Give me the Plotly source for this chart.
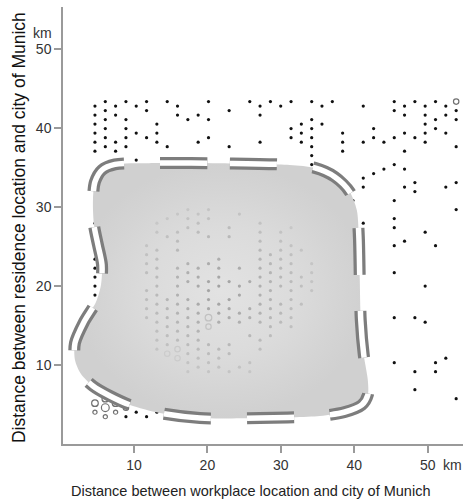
import plotly.graph_objects as go

# ---------------- data (km) ----------------
# black dots above the shaded region, row by row (y value, x values)
top_rows_y = [43.33, 42.76, 42.19, 41.62, 41.05, 40.48, 39.91, 39.34, 38.77,
              38.20, 37.63, 37.06, 36.50, 35.93, 35.36]
top_rows_x = [
    [6.10, 8.91, 11.72, 14.53, 20.15, 25.77, 28.58, 31.39, 34.20, 37.01, 45.44, 48.25, 51.06],
    [4.69, 7.50, 10.31, 15.93, 27.17, 29.98, 35.60, 41.22, 46.84, 49.65, 52.46],
    [6.10, 11.72, 22.96, 45.44, 53.87],
    [4.69, 7.50, 15.93, 18.74, 27.17, 46.84, 49.65, 52.46],
    [6.10, 8.91, 17.34, 20.15, 34.20, 51.06, 53.87],
    [4.69, 13.12, 32.79, 35.60, 49.65],
    [6.10, 8.91, 31.39, 34.20, 42.63, 51.06],
    [4.69, 10.31, 13.12, 32.79, 38.41, 46.84, 49.65, 52.46],
    [6.10, 8.91, 11.72, 20.15, 31.39, 34.20, 42.63, 45.44, 48.25],
    [4.69, 7.50, 13.12, 18.74, 27.17, 32.79, 38.41, 41.22, 44.03, 49.65],
    [6.10, 8.91, 14.53, 22.96, 34.20, 53.87],
    [4.69, 7.50, 38.41, 46.84],
    [34.20],
    [10.31],
    [34.20, 45.44],
]

# black dots right of the shaded region
right_rows_y = [34.79, 34.22, 33.65, 33.08, 32.51, 31.94, 30.80, 29.66, 28.52,
                27.95, 27.38, 26.81, 25.67, 25.10, 21.68, 19.98, 15.99, 15.42,
                10.86, 10.29, 9.15, 6.88, 5.74]
right_rows_x = [
    [44.03, 46.84], [42.63], [41.22], [48.25, 53.87], [41.22, 46.84, 52.46],
    [48.25], [39.82, 45.44], [53.87], [45.44], [41.22], [45.44], [49.65],
    [46.84], [45.44, 51.06], [45.44], [49.65], [45.44, 48.25], [49.65],
    [52.46], [45.44, 51.06], [48.25, 51.06], [48.25], [53.87],
]

# black dots left of the shaded region
left_x = [4.69, 4.69, 4.69, 4.69, 4.69, 4.69, 4.69, 4.69]
left_y = [27.95, 26.81, 25.67, 23.39, 22.25, 21.12, 19.98, 18.84]

# black dots below the shaded region
bottom_x = [8.91, 10.31, 11.72, 13.12, 14.53, 17.34]
bottom_y = [3.46, 4.03, 3.46, 4.03, 3.46, 3.46]

# dots covered by the shaded region
inner_rows_y = [29.66, 29.09, 28.52, 27.95, 27.38, 26.81, 26.24, 25.67, 25.10,
                24.53, 23.96, 23.39, 22.82, 22.25, 21.68, 21.12, 20.55, 19.98,
                19.41, 18.84, 18.27, 17.70, 17.13, 16.56, 15.99, 15.42, 14.85,
                14.28, 13.71, 13.14, 12.57, 12.00, 11.43, 10.86, 10.29, 9.72, 9.15]
inner_rows_x = [
    [17.34, 20.15],
    [15.93, 18.74, 24.36],
    [14.53, 17.34, 20.15],
    [13.12, 18.74, 27.17],
    [17.34, 22.96, 31.39],
    [13.12, 15.93, 18.74, 27.17, 29.98],
    [14.53, 20.15, 22.96],
    [15.93, 27.17, 29.98],
    [11.72, 31.39],
    [13.12, 15.93, 27.17, 29.98, 32.79],
    [11.72, 28.58, 31.39],
    [13.12, 21.55, 27.17, 29.98],
    [11.72, 17.34, 20.15, 28.58, 31.39, 34.20],
    [13.12, 15.93, 18.74, 21.55, 24.36, 27.17, 29.98],
    [11.72, 17.34, 28.58, 31.39, 34.20],
    [13.12, 15.93, 18.74, 21.55, 27.17, 29.98, 32.79],
    [17.34, 20.15, 22.96, 25.77, 28.58, 31.39, 34.20],
    [13.12, 15.93, 18.74, 21.55, 24.36, 27.17, 29.98, 32.79],
    [11.72, 20.15, 28.58, 31.39, 34.20],
    [13.12, 15.93, 24.36, 27.17],
    [11.72, 14.53, 17.34, 20.15, 22.96, 28.58, 31.39],
    [13.12, 15.93, 18.74, 21.55, 27.17, 29.98, 32.79],
    [11.72, 14.53, 17.34, 20.15, 22.96, 25.77, 28.58, 31.39],
    [13.12, 15.93, 18.74, 21.55, 24.36, 27.17, 29.98],
    [11.72, 14.53, 17.34, 22.96, 25.77, 28.58, 31.39],
    [13.12, 15.93, 18.74, 21.55, 24.36, 27.17, 29.98],
    [14.53, 17.34, 28.58, 31.39],
    [13.12, 15.93, 18.74],
    [14.53, 17.34, 25.77, 28.58],
    [13.12, 15.93, 18.74, 27.17],
    [14.53, 17.34, 20.15, 22.96],
    [13.12, 18.74, 21.55, 27.17],
    [17.34, 20.15, 22.96],
    [18.74, 21.55],
    [17.34, 20.15, 25.77],
    [18.74, 21.55, 24.36],
    [17.34, 20.15, 22.96, 25.77],
]

# multi-person cells (open circles), n = number of persons
ring_x = [4.69, 6.10, 7.50, 8.91, 4.69, 6.10, 7.50, 6.10, 53.87,
          20.15, 20.15, 15.93, 14.53, 15.93]
ring_y = [5.17, 4.60, 5.17, 4.60, 4.03, 3.46, 4.03, 5.74, 43.33,
          15.99, 14.85, 12.00, 11.43, 10.86]
ring_n = [3, 4, 3, 2, 1, 1, 1, 3, 2, 3, 2, 2, 2, 2]

# outline of the core commuting region
blob_x = [12.04, 23.06, 31.22, 34.63, 37.35, 39.39, 40.34, 40.61, 40.75, 40.88,
          41.29, 41.84, 41.84, 41.02, 38.71, 35.31, 27.14, 18.98, 13.54, 9.46,
          6.73, 4.42, 2.79, 1.97, 1.97, 3.20, 4.83, 5.51, 5.65, 5.10,
          4.56, 4.42, 4.69, 5.65, 7.41, 12.04]
blob_y = [35.53, 35.51, 35.32, 34.94, 33.80, 31.90, 29.62, 26.46, 20.76, 15.70,
          11.27, 8.10, 6.20, 4.94, 4.05, 3.54, 3.29, 3.29, 3.92, 4.94,
          6.08, 7.34, 8.86, 10.63, 12.78, 15.44, 17.97, 20.13, 22.66, 25.19,
          27.72, 30.89, 33.16, 34.68, 35.38, 35.53]

x_ticks = [10, 20, 30, 40, 50]
y_ticks = [10, 20, 30, 40, 50]


def expand(rows_y, rows_x):
    xs, ys = [], []
    for yv, row in zip(rows_y, rows_x):
        xs += row
        ys += [yv] * len(row)
    return xs, ys


tx, ty = expand(top_rows_y, top_rows_x)
rx, ry = expand(right_rows_y, right_rows_x)
ix, iy = expand(inner_rows_y, inner_rows_x)
dot_x = tx + rx + left_x + bottom_x + ix
dot_y = ty + ry + left_y + bottom_y + iy

FONT = "Liberation Sans, Arial, Helvetica, sans-serif"
AX = "#9a9a9a"

fig = go.Figure()
fig.add_trace(go.Scatter(x=dot_x, y=dot_y, mode="markers",
                         marker=dict(size=3.2, color="#111111"),
                         hoverinfo="skip", showlegend=False))
fig.add_trace(go.Scatter(x=ring_x, y=ring_y, mode="markers",
                         marker=dict(symbol="circle-open",
                                     size=[3.0 + 1.2 * n for n in ring_n],
                                     color="#333333", line=dict(width=1.2)),
                         hoverinfo="skip", showlegend=False))
fig.add_trace(go.Scatter(x=blob_x, y=blob_y, mode="lines", fill="toself",
                         line=dict(width=0, shape="spline", smoothing=0.8),
                         fillgradient=dict(type="radial", colorscale=[
                             [0.0, "rgba(215,215,215,0.72)"],
                             [0.5, "rgba(214,214,214,0.87)"],
                             [0.8, "rgba(211,211,211,0.97)"],
                             [1.0, "rgba(208,208,208,1)"]]),
                         hoverinfo="skip", showlegend=False))
fig.add_trace(go.Scatter(x=blob_x, y=blob_y, mode="lines",
                         line=dict(color="#7d7d7d", width=12, dash="47px,36px",
                                   shape="spline", smoothing=0.8),
                         hoverinfo="skip", showlegend=False))
fig.add_trace(go.Scatter(x=blob_x, y=blob_y, mode="lines",
                         line=dict(color="#ffffff", width=5.5, dash="47px,36px",
                                   shape="spline", smoothing=0.8),
                         hoverinfo="skip", showlegend=False))

axis_common = dict(ticks="outside", ticklen=7, tickwidth=1.5, tickcolor=AX,
                   showline=True, linecolor=AX, linewidth=1.5,
                   showgrid=False, zeroline=False,
                   tickfont=dict(family=FONT, size=14, color="#333333"))
fig.update_xaxes(range=[0.34, 54.8], tickvals=x_ticks, **axis_common)
fig.update_yaxes(range=[0, 55.3], tickvals=y_ticks, **axis_common)

fig.update_layout(
    width=465, height=501,
    margin=dict(l=63, r=2, t=7, b=57),
    paper_bgcolor="white", plot_bgcolor="white",
    font=dict(family=FONT, color="#222222"),
    showlegend=False,
    annotations=[
        dict(text="Distance between workplace location and city of Munich",
             xref="paper", yref="paper", x=0.4675, y=-0.1076,
             xanchor="center", yanchor="middle", showarrow=False,
             font=dict(family=FONT, size=14.5, color="#222222")),
        dict(text="Distance between residence location and city of Munich",
             xref="paper", yref="paper", x=-0.11, y=0.494, textangle=-90,
             xanchor="center", yanchor="middle", showarrow=False,
             font=dict(family=FONT, size=17.5, color="#111111")),
        dict(text="km", xref="x", yref="paper", x=53.4, y=-0.048,
             xanchor="center", yanchor="middle", showarrow=False,
             font=dict(family=FONT, size=14, color="#333333")),
        dict(text="km", xref="paper", yref="paper", x=-0.022, y=0.9405,
             xanchor="right", yanchor="middle", showarrow=False,
             font=dict(family=FONT, size=14, color="#333333")),
    ],
)

fig.write_html("out.html",
               config={"displayModeBar": False},
               post_script="document.body.style.margin='0';"
                           "document.body.style.overflow='hidden';")
